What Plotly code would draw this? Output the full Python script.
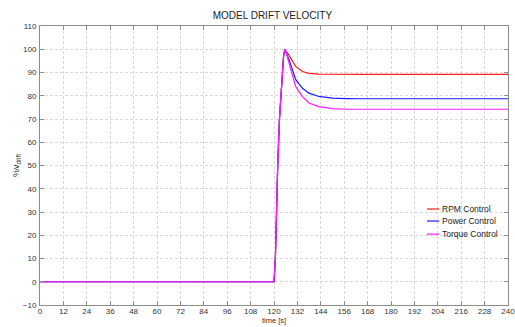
import plotly.graph_objects as go

# ---- data ----
time_s = [0, 120, 120.7, 121.2, 121.9, 122.8, 123.4, 124.2, 124.9, 125.5,
          126.5, 127.7, 128.6, 131.1, 134.6, 137.9, 143, 150, 157, 165, 240]
rpm_control = [0, 0, 10, 30, 50, 70, 78, 90, 97, 100,
               99.0, 97.5, 96.2, 92.6, 90.4, 89.6, 89.3, 89.2, 89.2, 89.2, 89.2]
power_control = [0, 0, 10, 30, 50, 70, 78, 90, 97, 100,
                 98.3, 95.6, 93.3, 87.0, 83.2, 81.1, 79.7, 79.0, 78.8, 78.7, 78.7]
torque_control = [0, 0, 10, 30, 50, 70, 78, 90, 97, 100,
                  97.8, 94.2, 91.2, 84.0, 79.6, 76.9, 75.3, 74.5, 74.2, 74.2, 74.2]
series_names = ["RPM Control", "Power Control", "Torque Control"]
series_colors = ["#ff1a1a", "#1a1aff", "#ff1aff"]
x_ticks = list(range(0, 241, 12))
y_ticks = list(range(-10, 111, 10))

FONT = "Liberation Sans, Arial, sans-serif"

fig = go.Figure()
for name, vals, col in zip(series_names, [rpm_control, power_control, torque_control], series_colors):
    fig.add_trace(go.Scatter(x=time_s, y=vals, mode="lines", name=name,
                             line=dict(color=col, width=1.2), showlegend=False))

axis_common = dict(showline=True, linecolor="#8c8c8c", linewidth=1, mirror="ticks",
                   ticks="inside", ticklen=4, tickcolor="#8c8c8c",
                   showgrid=True, gridcolor="#d9d9d9", griddash="3px,2px", gridwidth=1,
                   zeroline=False, ticklabeloverflow="allow",
                   tickfont=dict(family=FONT, size=8, color="#333333"))

# legend drawn as small line keys + labels (paper coordinates)
legend_x0, legend_x1 = 0.827, 0.853
legend_rows = [0.344, 0.301, 0.254]
shapes = []
annotations = []
for name, col, yy in zip(series_names, series_colors, legend_rows):
    shapes.append(dict(type="line", xref="paper", yref="paper", x0=legend_x0, x1=legend_x1,
                       y0=yy, y1=yy, line=dict(color=col, width=1.2)))
    annotations.append(dict(text=name, xref="paper", yref="paper", x=legend_x1 + 0.002, y=yy,
                            xanchor="left", yanchor="middle", showarrow=False,
                            font=dict(family=FONT, size=8.5, color="#222222")))

annotations += [
    dict(text="time [s]", xref="paper", yref="paper", x=0.5, y=-0.077, xanchor="center",
         yanchor="bottom", showarrow=False, borderpad=0,
         font=dict(family=FONT, size=7.5, color="#333333")),
    dict(text="%v<sub>drift</sub>", xref="paper", yref="paper", x=-0.05, y=0.5,
         xanchor="center", yanchor="middle", textangle=-90, showarrow=False,
         font=dict(family=FONT, size=9, color="#333333")),
]

fig.update_layout(
    width=515, height=327,
    margin=dict(l=40, r=7, t=26, b=22, autoexpand=False),
    paper_bgcolor="white", plot_bgcolor="white",
    title=dict(text="MODEL DRIFT VELOCITY", x=0.529, xanchor="center", y=0.954, yanchor="middle",
               font=dict(family=FONT, size=10, color="#222222")),
    xaxis=dict(range=[0, 240], tickvals=x_ticks, ticklabelstandoff=-2, **axis_common),
    yaxis=dict(range=[-10, 110], tickvals=y_ticks, ticklabelstandoff=1, **axis_common),
    showlegend=False,
    shapes=shapes,
    annotations=annotations,
)

fig.write_html("out.html", config={"displayModeBar": False})

# remove the browser's default page margin so the figure sits at the window origin
with open("out.html", "r", encoding="utf-8") as f:
    html = f.read()
html = html.replace("<head>", "<head><style>html,body{margin:0;padding:0;overflow:hidden;}</style>", 1)
with open("out.html", "w", encoding="utf-8") as f:
    f.write(html)
